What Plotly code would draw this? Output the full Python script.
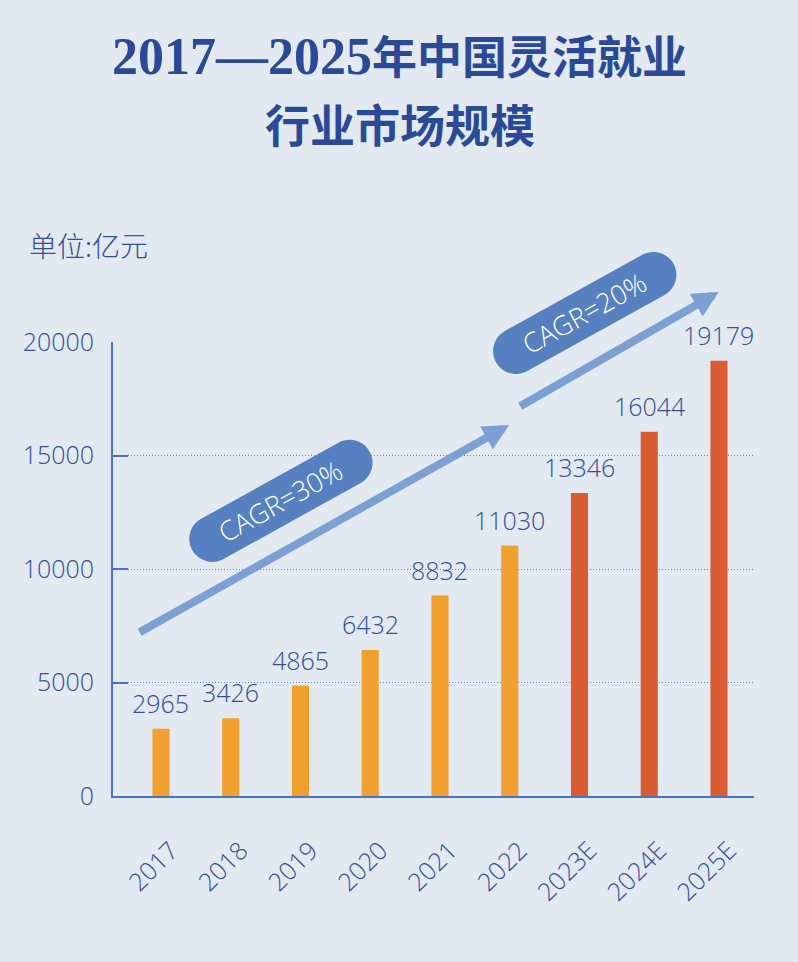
import math
import plotly.graph_objects as go

# ---------------- data ----------------
categories = ["2017", "2018", "2019", "2020", "2021", "2022", "2023E", "2024E", "2025E"]
values = [2965, 3426, 4865, 6432, 8832, 11030, 13346, 16044, 19179]
is_forecast = [False, False, False, False, False, False, True, True, True]
y_ticks = [0, 5000, 10000, 15000, 20000]
cagr_labels = ["CAGR=30%", "CAGR=20%"]
title_line1_num = "2017—2025"
title_line1_txt = "年中国灵活就业"
title_line2 = "行业市场规模"
unit_label = "单位:亿元"

# ---------------- styles ----------------
BG = "#E2E9F1"
TXT = "#324E9C"
TITLE = "#2A4A97"
AXIS = "#4675C8"
ORANGE = "#F0A12F"
RED = "#D95C34"
PILL = "#5680C0"
ARROW = "#7C9FD4"
FONT = "Open Sans, Noto Sans, Noto Sans CJK SC, sans-serif"

bar_colors = [RED if f else ORANGE for f in is_forecast]
positions = list(range(len(categories)))

fig = go.Figure()
fig.add_trace(go.Bar(
    x=positions, y=values, marker=dict(color=bar_colors, line=dict(width=0)),
    width=0.245, hoverinfo="skip", showlegend=False,
))

# data labels
for i, v in zip(positions, values):
    fig.add_annotation(x=i, y=v, text=str(v), showarrow=False, yanchor="bottom",
                       yshift=7, font=dict(family=FONT, size=25, color=TXT, weight=300))

# capsule path (pixel units, relative to anchor)
def capsule(angle_deg, straight, radius):
    a = math.radians(angle_deg)
    ux, uy = math.cos(a), math.sin(a)
    nx, ny = -uy, ux
    h, r, k = straight / 2, radius, 0.5523
    def p(sx, sy):
        return f"{sx:.2f},{sy:.2f}"
    P1 = (-h * ux - r * nx, -h * uy - r * ny)
    P2 = (h * ux - r * nx, h * uy - r * ny)
    Q = (h * ux + r * ux, h * uy + r * uy)
    P3 = (h * ux + r * nx, h * uy + r * ny)
    P4 = (-h * ux + r * nx, -h * uy + r * ny)
    R = (-h * ux - r * ux, -h * uy - r * uy)
    d = f"M {p(*P1)} L {p(*P2)} "
    d += f"C {p(P2[0]+k*r*ux, P2[1]+k*r*uy)} {p(Q[0]-k*r*nx, Q[1]-k*r*ny)} {p(*Q)} "
    d += f"C {p(Q[0]+k*r*nx, Q[1]+k*r*ny)} {p(P3[0]+k*r*ux, P3[1]+k*r*uy)} {p(*P3)} "
    d += f"L {p(*P4)} "
    d += f"C {p(P4[0]-k*r*ux, P4[1]-k*r*uy)} {p(R[0]+k*r*nx, R[1]+k*r*ny)} {p(*R)} "
    d += f"C {p(R[0]-k*r*nx, R[1]-k*r*ny)} {p(P1[0]-k*r*ux, P1[1]-k*r*uy)} {p(*P1)} Z"
    return d

ANG = 29
pill_pos = [(0.262, 0.650), (0.736, 1.064)]
for (px, py), lab in zip(pill_pos, cagr_labels):
    fig.add_shape(type="path", xref="paper", yref="paper", xsizemode="pixel", ysizemode="pixel",
                  xanchor=px, yanchor=py, path=capsule(ANG, 157, 23),
                  fillcolor=PILL, line=dict(width=0), layer="above")
    fig.add_annotation(xref="paper", yref="paper", x=px, y=py, text=lab, showarrow=False,
                       textangle=-ANG, xanchor="center", yanchor="middle",
                       font=dict(family=FONT, size=27, color="white", weight=300))

# trend arrows
arrows = [(0.618, 0.817, -371, 208), (0.945, 1.110, -200, 115)]
for x, y, ax, ay in arrows:
    fig.add_annotation(xref="paper", yref="paper", x=x, y=y, ax=ax, ay=ay, text="",
                       showarrow=True, arrowhead=2, arrowsize=0.65, arrowwidth=8,
                       arrowcolor=ARROW, standoff=0, startstandoff=0, font=dict(size=1))

# titles
fig.add_annotation(xref="paper", yref="paper", x=0.4477, y=1.628, xanchor="center", yanchor="middle",
                   text=f"<b><span style='font-size:52px'>{title_line1_num}</span>{title_line1_txt}</b>",
                   showarrow=False,
                   font=dict(family="Liberation Serif, Noto Sans CJK SC, serif", size=45, color=TITLE))
fig.add_annotation(xref="paper", yref="paper", x=0.4477, y=1.471, xanchor="center", yanchor="middle",
                   text=f"<b>{title_line2}</b>", showarrow=False,
                   font=dict(family="Liberation Serif, Noto Sans CJK SC, serif", size=45, color=TITLE))
fig.add_annotation(xref="paper", yref="paper", x=-0.134, y=1.2137, xanchor="left", yanchor="middle",
                   text=unit_label, showarrow=False,
                   font=dict(family="Noto Sans CJK SC, sans-serif", size=28, color=TXT, weight=300))

fig.update_layout(
    width=798, height=962,
    margin=dict(l=113, r=44, t=342, b=166),
    paper_bgcolor=BG, plot_bgcolor=BG,
    xaxis=dict(range=[-0.688, 8.502], tickvals=positions, ticktext=categories,
               showline=True, linecolor=AXIS, linewidth=2,
               showgrid=False, zeroline=False, ticks="", tickangle=-45,
               ticklabelstandoff=28, ticklabelshift=10,
               tickfont=dict(family=FONT, size=25, color=TXT, weight=300), fixedrange=True),
    yaxis=dict(range=[0, 20000], tickvals=y_ticks, ticktext=[str(t) for t in y_ticks],
               showline=True, linecolor=AXIS, linewidth=2,
               ticks="inside", ticklen=15, tickwidth=2, tickcolor=AXIS,
               showgrid=True, gridcolor="#5F88D2", griddash="1px,2px", gridwidth=1,
               zeroline=False, ticklabelstandoff=12,
               tickfont=dict(family=FONT, size=25, color=TXT, weight=300), fixedrange=True),
)

fig.write_html("out.html", config={"displayModeBar": False},
               post_script="document.body.style.margin='0';document.body.style.overflow='hidden';")
